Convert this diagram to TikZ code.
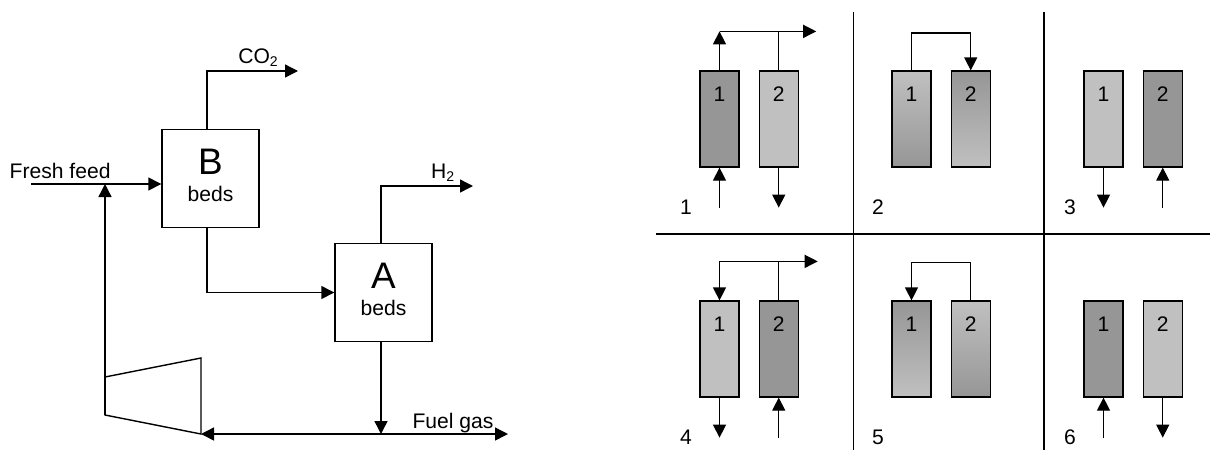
\documentclass[tikz,border=0pt]{standalone}
\usepackage{fontspec}
\setmainfont{Liberation Sans}
\usetikzlibrary{arrows.meta,calc,positioning}
\definecolor{bedlight}{HTML}{C0C0C0}
\definecolor{beddark}{HTML}{969696}

\begin{document}
\begin{tikzpicture}[
    font=\fontsize{12}{14}\selectfont,
    >={Triangle[length=2.6mm, width=2.6mm]},
    line width=0.8pt,
    unit/.style={draw, minimum width=1.94cm, minimum height=1.96cm, inner sep=0pt},
    bigtxt/.style={font=\fontsize{21}{24}\selectfont, anchor=base},
    col/.style={draw, minimum width=0.78cm, minimum height=1.92cm, inner sep=0pt, line width=0.7pt},
    num/.style={font=\fontsize{12}{14}\selectfont, anchor=base},
    thinline/.style={line width=0.7pt},
]
\useasboundingbox (0,0) rectangle (24.2,-9);

% ---- process flowsheet ----
\node[unit] (Bb) at (4.21,-3.57) {};
\node[unit] (Ab) at (7.67,-5.85) {};
\node[bigtxt] (Bt) at ($(Bb.north)+(0,-0.92)$) {B};
\node[anchor=base] (Bs) at ($(Bb.north)+(0,-1.46)$) {beds};
\node[bigtxt] (At) at ($(Ab.north)+(0,-0.92)$) {A};
\node[anchor=base] (As) at ($(Ab.north)+(0,-1.46)$) {beds};

% compressor
\coordinate (cnw) at (2.10,-7.54);
\coordinate (cne) at (4.02,-7.16);
\coordinate (cse) at (4.02,-8.68);
\coordinate (csw) at (2.10,-8.30);
\draw (csw) -- (cnw) -- (cne) -- (cse) -- cycle;

% stream ends
\coordinate (feed) at (0.62,-3.68);
\coordinate (co2) at (5.96,-1.42);
\coordinate (h2) at (9.46,-3.72);
\coordinate (fuel) at (10.16,-8.68);

\draw[->] (feed) -- (Bb.west|-feed);
\draw[->] (csw) -- (cnw|-feed);
\draw[->] ([xshift=-0.07cm]Bb.north) |- (co2);
\draw[->] ([xshift=-0.07cm]Bb.south) |- (Ab.west);
\draw[->] ([xshift=-0.05cm]Ab.north) |- (h2);
\draw[->] ([xshift=-0.05cm]Ab.south) -- ([xshift=-0.05cm]Ab.south|-fuel);
\draw[<->] (cse) -- (fuel);

\node[anchor=base west, inner sep=0pt] (feedlab) at (0.18,-3.56) {Fresh feed};
\node[anchor=base] (co2lab) at (5.17,-1.26) {CO\textsubscript{2}};
\node[anchor=base] (h2lab) at (8.86,-3.56) {H\textsubscript{2}};
\node[anchor=base] (fuellab) at (9.06,-8.56) {Fuel gas};

% ---- bed switching steps ----
\draw[thinline] (17.07,-0.24) -- (17.07,-9);
\draw[thinline] (20.88,-0.24) -- (20.88,-9);
\draw[thinline] (13.12,-4.68) -- (24.2,-4.68);

\foreach \p/\x/\y/\ta/\ba/\tb/\bb in {
    1/0/0/beddark/beddark/bedlight/bedlight,
    2/1/0/bedlight/beddark/beddark/bedlight,
    3/2/0/bedlight/bedlight/beddark/beddark,
    4/0/1/bedlight/bedlight/beddark/beddark,
    5/1/1/beddark/bedlight/bedlight/beddark,
    6/2/1/beddark/beddark/bedlight/bedlight} {
    \node[col, top color=\ta, bottom color=\ba,
        label={[num, yshift=-0.62cm]north:1}] (c\p-1) at ({14.39+3.84*\x},{-2.38-4.6*\y}) {};
    \node[col, top color=\tb, bottom color=\bb,
        label={[num, yshift=-0.62cm]north:2}, right=0.38cm of c\p-1] (c\p-2) {};
    \node[num] (n\p) at ($(c\p-1.south west)+(-0.27,-0.93)$) {\p};
}

% feed in from below, product out at the bottom
\foreach \i/\o in {1-1/1-2, 3-2/3-1, 4-2/4-1, 6-1/6-2} {
    \coordinate (in\i) at ($(c\i.south)+(0,-0.8)$);
    \coordinate (out\o) at ($(c\o.south)+(0,-0.8)$);
    \draw[->, thinline] (in\i) -- (c\i.south);
    \draw[->, thinline] (c\o.south) -- (out\o);
}

% step 1
\coordinate (t1) at ($(c1-1.north)+(0,0.78)$);
\coordinate (o1) at ($(c1-2.north)+(0.75,0.78)$);
\draw[->, thinline] (c1-1.north) -- (t1);
\draw[thinline] (c1-2.north) -- (c1-2.north|-t1);
\draw[->, thinline] (t1) -- (o1);

% step 2
\coordinate (t2) at ($(c2-1.north)+(0,0.75)$);
\draw[->, thinline] (c2-1.north) -- (t2) -| (c2-2.north);

% step 4
\coordinate (t4) at ($(c4-1.north)+(0,0.78)$);
\coordinate (o4) at ($(c4-2.north)+(0.78,0.78)$);
\draw[->, thinline] (t4) -- (c4-1.north);
\draw[thinline] (c4-2.north) -- (c4-2.north|-t4);
\draw[->, thinline] (t4) -- (o4);

% step 5
\coordinate (t5) at ($(c5-2.north)+(0,0.76)$);
\draw[->, thinline] (c5-2.north) -- (t5) -| (c5-1.north);
\end{tikzpicture}
\end{document}
